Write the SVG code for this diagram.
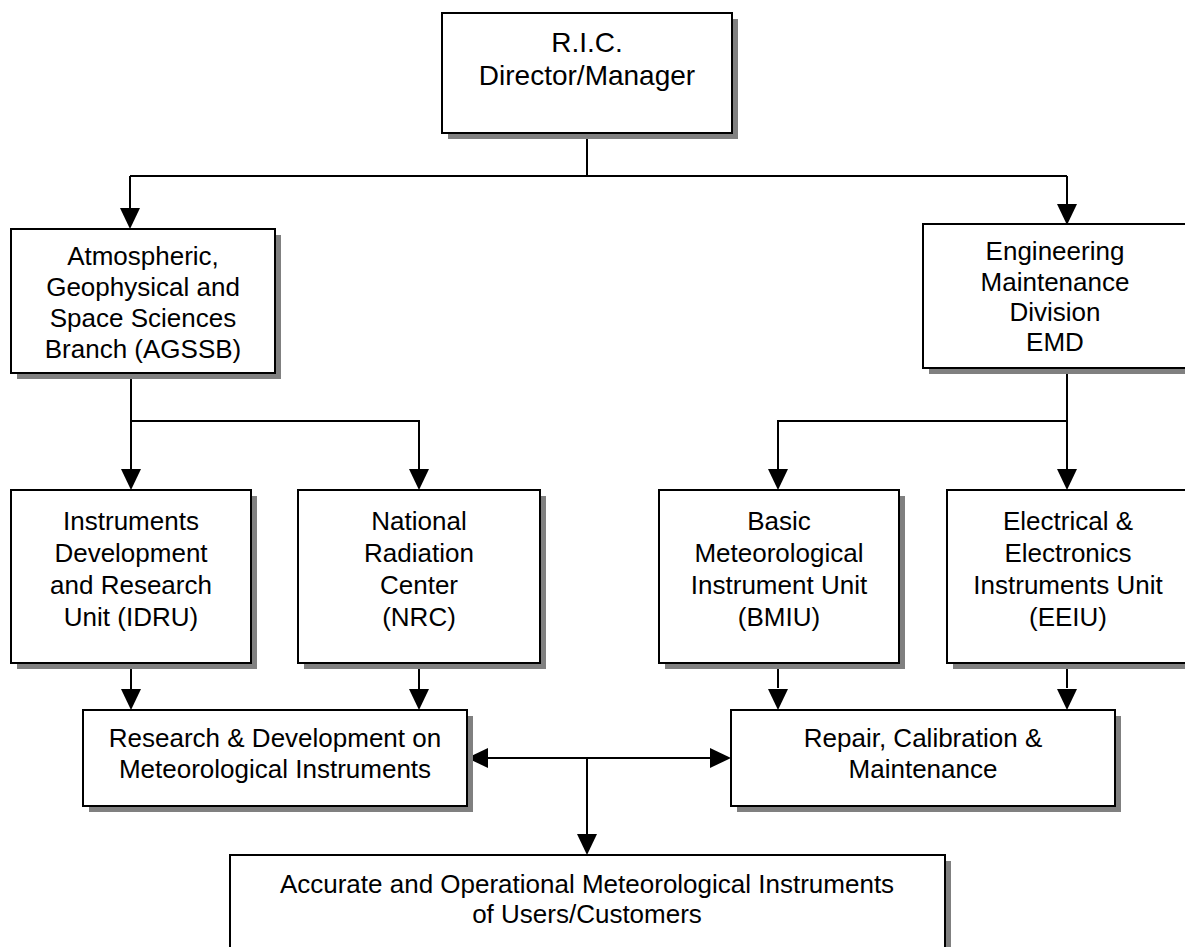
<svg xmlns="http://www.w3.org/2000/svg" width="1185" height="947" viewBox="0 0 1185 947">
<defs>
<style>
.sh{fill:#808080;stroke:none}
.bx{fill:#fff;stroke:#000;stroke-width:2}
.t{font-family:"Liberation Sans",Arial,sans-serif;font-size:26px;fill:#000;text-anchor:middle}
.c{fill:none;stroke:#000;stroke-width:2}
.h{fill:#000;stroke:none}
</style>
</defs>
<rect width="1185" height="947" fill="#fff"/>
<g id="connectors">
<path class="c" d="M587,133 V176 M130,176 H1067"/>
<path class="c" d="M130,176 V209"/><path class="h" d="M120,208 L140,208 L130,229 z"/>
<path class="c" d="M1067,176 V205"/><path class="h" d="M1057,204 L1077,204 L1067,225 z"/>
<path class="c" d="M131,373 V470 M131,421 H419 V470"/>
<path class="h" d="M121,469 L141,469 L131,490 z"/><path class="h" d="M409,469 L429,469 L419,490 z"/>
<path class="c" d="M1067,368 V470 M1067,421 H778 V470"/>
<path class="h" d="M768,469 L788,469 L778,490 z"/><path class="h" d="M1057,469 L1077,469 L1067,490 z"/>
<path class="c" d="M131,663 V690 M419,663 V690 M778,663 V688 M1067,663 V688"/>
<path class="h" d="M121,689 L141,689 L131,710 z"/><path class="h" d="M409,689 L429,689 L419,710 z"/>
<path class="h" d="M768,689 L788,689 L778,710 z"/><path class="h" d="M1057,689 L1077,689 L1067,710 z"/>
<path class="c" d="M487,758 H711 M587,758 V835"/>
<path class="h" d="M488,748 L488,768 L467,758 z"/><path class="h" d="M710,748 L710,768 L731,758 z"/>
<path class="h" d="M577,834 L597,834 L587,855 z"/>
</g>
<g id="n-ric">
<rect class="sh" x="448" y="19" width="290" height="120"/>
<rect class="bx" x="442" y="13" width="290" height="120"/>
<text class="t" style="font-size:28px"><tspan x="587" y="52">R.I.C.</tspan><tspan x="587" y="85">Director/Manager</tspan></text>
</g>
<g id="n-agssb">
<rect class="sh" x="17" y="235" width="264" height="144"/>
<rect class="bx" x="11" y="229" width="264" height="144"/>
<text class="t"><tspan x="143" y="265">Atmospheric,</tspan><tspan x="143" y="296">Geophysical and</tspan><tspan x="143" y="327">Space Sciences</tspan><tspan x="143" y="358">Branch (AGSSB)</tspan></text>
</g>
<g id="n-emd">
<rect class="sh" x="929" y="230" width="264" height="144"/>
<rect class="bx" x="923" y="224" width="264" height="144"/>
<text class="t"><tspan x="1055" y="260">Engineering</tspan><tspan x="1055" y="291">Maintenance</tspan><tspan x="1055" y="321">Division</tspan><tspan x="1055" y="351">EMD</tspan></text>
</g>
<g id="n-idru">
<rect class="sh" x="17" y="496" width="240" height="173"/>
<rect class="bx" x="11" y="490" width="240" height="173"/>
<text class="t"><tspan x="131" y="530">Instruments</tspan><tspan x="131" y="562">Development</tspan><tspan x="131" y="594">and Research</tspan><tspan x="131" y="626">Unit (IDRU)</tspan></text>
</g>
<g id="n-nrc">
<rect class="sh" x="304" y="496" width="242" height="173"/>
<rect class="bx" x="298" y="490" width="242" height="173"/>
<text class="t"><tspan x="419" y="530">National</tspan><tspan x="419" y="562">Radiation</tspan><tspan x="419" y="594">Center</tspan><tspan x="419" y="626">(NRC)</tspan></text>
</g>
<g id="n-bmiu">
<rect class="sh" x="665" y="496" width="240" height="173"/>
<rect class="bx" x="659" y="490" width="240" height="173"/>
<text class="t"><tspan x="779" y="530">Basic</tspan><tspan x="779" y="562">Meteorological</tspan><tspan x="779" y="594">Instrument Unit</tspan><tspan x="779" y="626">(BMIU)</tspan></text>
</g>
<g id="n-eeiu">
<rect class="sh" x="953" y="496" width="242" height="173"/>
<rect class="bx" x="947" y="490" width="242" height="173"/>
<text class="t"><tspan x="1068" y="530">Electrical &amp;</tspan><tspan x="1068" y="562">Electronics</tspan><tspan x="1068" y="594">Instruments Unit</tspan><tspan x="1068" y="626">(EEIU)</tspan></text>
</g>
<g id="n-rd">
<rect class="sh" x="89" y="716" width="384" height="96"/>
<rect class="bx" x="83" y="710" width="384" height="96"/>
<text class="t"><tspan x="275" y="747">Research &amp; Development on</tspan><tspan x="275" y="778">Meteorological Instruments</tspan></text>
</g>
<g id="n-rcm">
<rect class="sh" x="737" y="716" width="384" height="96"/>
<rect class="bx" x="731" y="710" width="384" height="96"/>
<text class="t"><tspan x="923" y="747">Repair, Calibration &amp;</tspan><tspan x="923" y="778">Maintenance</tspan></text>
</g>
<g id="n-acc">
<rect class="sh" x="236" y="861" width="715" height="100"/>
<rect class="bx" x="230" y="855" width="715" height="100"/>
<text class="t"><tspan x="587" y="893">Accurate and Operational Meteorological Instruments</tspan><tspan x="587" y="923">of Users/Customers</tspan></text>
</g>
</svg>
